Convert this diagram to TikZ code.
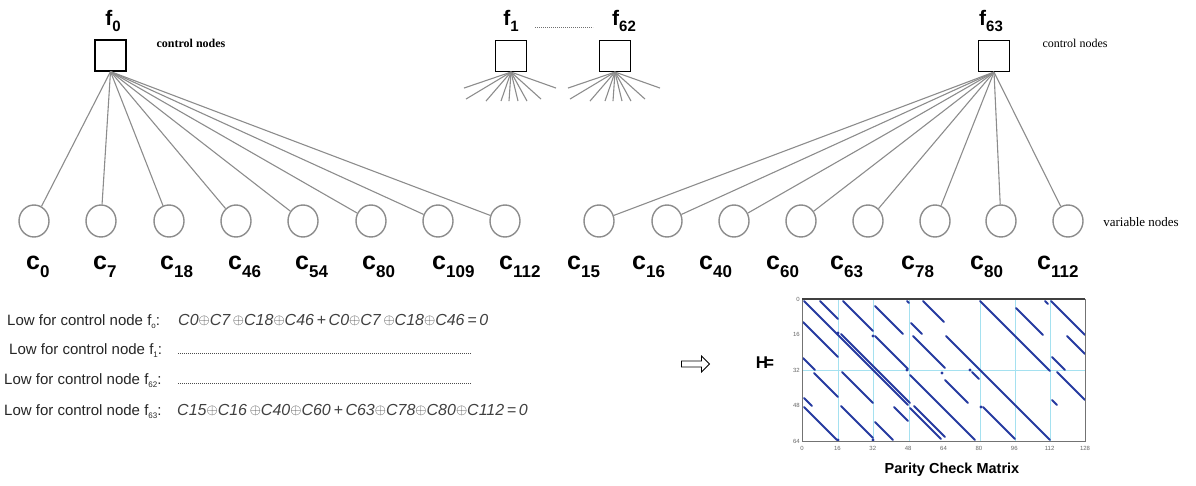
\documentclass[tikz,border=0pt]{standalone}
\usepackage{fontspec}
\setmainfont{Liberation Sans}
\newfontfamily\serifb{Liberation Serif}
\usetikzlibrary{shapes.geometric,shapes.arrows}
\definecolor{edgegray}{RGB}{140,140,140}
\definecolor{hblue}{RGB}{38,58,160}
\definecolor{gridcyan}{RGB}{165,225,240}
\newcommand\fs[1]{\fontsize{#1}{#1}\selectfont}
\newcommand\xo{\raisebox{0.2pt}{\fs{15}$\oplus$}}
\begin{document}
\begin{tikzpicture}[x=1pt,y=-1pt,
  fbox/.style={draw, line width=1.1pt, minimum size=31pt, inner sep=0pt},
  vnode/.style={ellipse, draw=edgegray, line width=1.4pt, minimum width=30pt, minimum height=32pt, inner sep=0pt},
  edge/.style={draw=edgegray, line width=1.1pt},
  flab/.style={font=\fs{21}\bfseries, inner sep=0pt},
  clab/.style={font=\fs{25}\bfseries, anchor=base west, inner sep=0pt},
  ctext/.style={font=\serifb\fs{12}\bfseries, inner sep=0pt},
  lowlab/.style={font=\fs{15}, anchor=base west, inner sep=0pt, text=black!85},
  eqtext/.style={font=\fs{16}\itshape, anchor=base west, inner sep=0pt, text=black!75},
  hseg/.style={hblue, line width=1.8pt, line cap=round},
  gridl/.style={gridcyan, line width=0.9pt},
  tick/.style={font=\fs{6}, text=black!60, inner sep=0pt}]
\useasboundingbox (0,0) rectangle (1196,485);

% control nodes
\node[fbox] (f0) at (110.5,55.5) {};
\node[fbox] (f1) at (511,56) {};
\node[fbox] (f62) at (615,56) {};
\node[fbox] (f63) at (994,56) {};
\node[flab] (lf0) at (113,21) {f\raisebox{-6pt}{\fs{15}0}};
\node[flab] (lf1) at (511,21) {f\raisebox{-6pt}{\fs{15}1}};
\node[flab] (lf62) at (624,21) {f\raisebox{-6pt}{\fs{15}62}};
\node[flab] (lf63) at (991,21) {f\raisebox{-6pt}{\fs{15}63}};
\coordinate (d1) at (535,27);
\coordinate (d2) at (593,27);
\draw[edgegray!80!black, line width=0.8pt, dash pattern=on 0.8pt off 1.2pt] (d1) -- (d2);
\node[ctext] (cn1) at (191,43) {control nodes};
\node[ctext, font=\serifb\fs{12}] (cn2) at (1075,43) {control nodes};

% variable nodes
\foreach \x [count=\i] in {34,101,169,236,303,371,438,505}
  \node[vnode] (v\i) at (\x,221) {};
\foreach \x [count=\i] in {599,667,734,801,868,935,1001,1068}
  \node[vnode] (w\i) at (\x,221) {};
\node[font=\serifb\fs{13}, inner sep=0pt] (vn) at (1141,222) {variable nodes};

% edges
\foreach \i in {1,...,8} {
  \draw[edge] (f0.south) -- (v\i);
  \draw[edge] (f63.south) -- (w\i);
}
\foreach \dx/\dy [count=\k] in {-47/16,-45/27,-25/29,-10/29,-2/29,7/29,16/29,30/27,45/16} {
  \draw[edge] (f1.south) -- ++(\dx,\dy) coordinate (fa\k);
  \draw[edge] (f62.south) -- ++(\dx,\dy) coordinate (fb\k);
}

% variable labels
\foreach \x/\s [count=\i] in {26/0,93/7,160/18,228/46,295/54,362/80,432/109,499/112}
  \node[clab] (lc\i) at (\x,269) {c\raisebox{-8pt}{\fs{17}\s}};
\foreach \x/\s [count=\i] in {567/15,632/16,699/40,766/60,830/63,901/78,970/80,1037/112}
  \node[clab] (ld\i) at (\x,269) {c\raisebox{-8pt}{\fs{17}\s}};

% equations
\node[lowlab] (r1) at (7,325) {Low for control node f\raisebox{-3pt}{\fs{8}o}:};
\node[lowlab] (r2) at (9,354) {Low for control node f\raisebox{-3pt}{\fs{8}1}:};
\node[lowlab] (r3) at (4,384) {Low for control node f\raisebox{-3pt}{\fs{8}62}:};
\node[lowlab] (r4) at (4,415) {Low for control node f\raisebox{-3pt}{\fs{8}63}:};
\node[eqtext] (e1) at (178,325) {C0\xo C7\,\xo C18\xo C46\,+\,C0\xo C7\,\xo C18\xo C46\,=\,0};
\coordinate (p2a) at (178,353); \coordinate (p2b) at (471,353);
\coordinate (p3a) at (178,383); \coordinate (p3b) at (471,383);
\draw[black!70, line width=0.7pt, dash pattern=on 0.7pt off 1.3pt] (p2a) -- (p2b);
\draw[black!70, line width=0.7pt, dash pattern=on 0.7pt off 1.3pt] (p3a) -- (p3b);
\node[eqtext] (e4) at (177,415) {C15\xo C16\,\xo C40\xo C60\,+\,C63\xo C78\xo C80\xo C112\,=\,0};

% arrow and H
\node[single arrow, draw, line width=0.8pt, minimum height=28pt, minimum width=16pt,
  single arrow head extend=4pt, inner sep=2pt] (arr) at (694,364) {};
\node[font=\fs{17}\bfseries, inner sep=0pt] (H) at (765,363) {H\kern-4pt=};

% parity check matrix
\coordinate (mNW) at (802,299);
\coordinate (mSE) at (1085,441);
\foreach \gx in {838,873,909,980,1015,1050}
  \draw[gridl] (\gx,299) -- (\gx,441);
\draw[gridl] (802,370) -- (1085,370);
\foreach \a/\b/\c/\d in {
 804/301/908/405, 841/334/910/403, 820/301/838/319, 843/301/873/331,
 875/306/903/334, 907/301/909/303, 923/301/944/322, 980/301/1050/371,
 1016/308/1043/335, 1045/301/1048/304, 1051/301/1085/335, 1067/336/1085/354,
 803/322/838/357, 875/336/908/369, 911/323/922/334, 913/336/945/368,
 946/336/1050/440, 1052/357/1065/370, 803/358/815/370, 814/373/838/397,
 842/372/873/403, 804/398/812/406, 804/407/837/440, 841/406/873/438,
 875/422/893/440, 894/407/908/421, 910/408/941/439, 914/406/945/437,
 910/375/975/440, 972/372/979/379, 945/380/968/403, 983/407/1015/439,
 1057/372/1085/400, 1052/400/1057/405}
  \draw[hseg] (\a,\b) -- (\c,\d);
\foreach \bx/\by in {838/333,873/336,907/370,942/373,981/407,838/440,873/440,970/370}
  \fill[hblue] (\bx,\by) circle (1.6pt);
\draw[black!55, line width=0.9pt] (mNW) rectangle (mSE);
\draw[black!75, line width=1.6pt] (mNW) -- (1085,299);
\foreach \t [count=\i from 0] in {0,16,32,48,64}
  \node[tick, anchor=east] (yt\i) at (800,299+35.5*\i) {\t};
\foreach \t [count=\i from 0] in {0,16,32,48,64,80,96,112,128}
  \node[tick] (xt\i) at (802+35.375*\i,448) {\t};
\node[font=\fs{14.5}\bfseries, inner sep=0pt] (pcm) at (952,470) {Parity Check Matrix};
\end{tikzpicture}
\end{document}
